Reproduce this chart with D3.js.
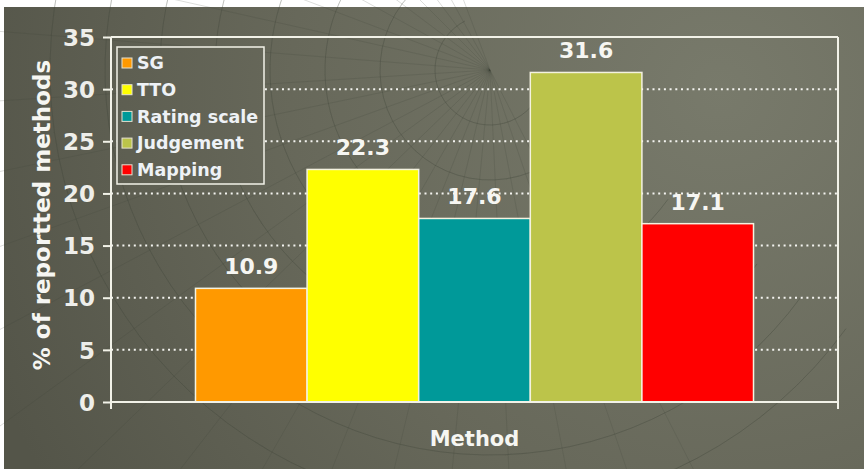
<!DOCTYPE html>
<html>
<head>
<meta charset="utf-8">
<script src="https://cdn.jsdelivr.net/npm/d3@7"></script>
<style>
  html, body { margin: 0; padding: 0; background: #ffffff; }
  svg { display: block; }
  text { font-family: "DejaVu Sans", Verdana, sans-serif; font-weight: bold; }
</style>
</head>
<body>
<svg id="chart" width="864" height="469"></svg>
<script>
// ---- data ----
const categories = ["Method"];
const seriesNames = ["SG", "TTO", "Rating scale", "Judgement", "Mapping"];
const seriesValues = [10.9, 22.3, 17.6, 31.6, 17.1];
const seriesColors = ["#ff9900", "#ffff00", "#009999", "#bcc44a", "#ff0000"];
const yTicks = [0, 5, 10, 15, 20, 25, 30, 35];
const yTitle = "% of reportted methods";
const xTitle = "Method";

const svg = d3.select("#chart");
const W = 864, H = 469;
const m = { left: 111, right: 838, top: 37, bottom: 402 };

// background
const defs = svg.append("defs");
const bg = defs.append("radialGradient")
  .attr("id", "bg").attr("gradientUnits", "userSpaceOnUse")
  .attr("cx", 720).attr("cy", 90).attr("r", 780);
bg.append("stop").attr("offset", "0%").attr("stop-color", "#787a6b");
bg.append("stop").attr("offset", "55%").attr("stop-color", "#67685a");
bg.append("stop").attr("offset", "100%").attr("stop-color", "#545549");

svg.append("rect").attr("x", 4).attr("y", 7).attr("width", W - 4).attr("height", H - 7)
  .attr("fill", "url(#bg)");

// faint decorative web lines in background
const web = svg.append("g").attr("stroke", "#3f4038").attr("stroke-opacity", 0.18).attr("fill", "none");
d3.range(0, 24).forEach(i => {
  const a = Math.PI * (0.35 + i * 0.045);
  web.append("line").attr("x1", 490).attr("y1", 70)
    .attr("x2", 490 + Math.cos(a) * 700).attr("y2", 70 + Math.sin(a) * 700);
});
d3.range(1, 9).forEach(i => {
  web.append("path").attr("d", d3.arc()({innerRadius: i * 55, outerRadius: i * 55, startAngle: Math.PI * 0.7, endAngle: Math.PI * 1.85}))
    .attr("transform", "translate(490,70)");
});

// scales
const y = d3.scaleLinear().domain([0, 35]).range([m.bottom, m.top]);
const x0 = d3.scaleBand().domain(categories).range([m.left, m.right]).paddingInner(0).paddingOuter(0.1514);
const x1 = d3.scaleBand().domain(seriesNames).range([0, x0.bandwidth()]).padding(0);
const color = d3.scaleOrdinal().domain(seriesNames).range(seriesColors);

const lineCol = "#f2f2e8";

// gridlines (dotted)
svg.append("g").selectAll("line").data(yTicks.filter(t => t > 0 && t < 35)).join("line")
  .attr("x1", m.left).attr("x2", m.right)
  .attr("y1", d => y(d)).attr("y2", d => y(d))
  .attr("stroke", "#f4f4f0").attr("stroke-width", 2)
  .attr("stroke-dasharray", "2,3.7");

// frame: top and right
svg.append("line").attr("x1", m.left).attr("x2", m.right).attr("y1", m.top).attr("y2", m.top)
  .attr("stroke", lineCol).attr("stroke-width", 2);
svg.append("line").attr("x1", m.right).attr("x2", m.right).attr("y1", m.top).attr("y2", m.bottom + 7)
  .attr("stroke", lineCol).attr("stroke-width", 2);

// bars
const g = svg.append("g");
categories.forEach(cat => {
  const rows = seriesNames.map((s, i) => ({ s, v: seriesValues[i] }));
  g.selectAll("rect.bar").data(rows).join("rect")
    .attr("class", "bar")
    .attr("x", d => x0(cat) + x1(d.s))
    .attr("y", d => y(d.v))
    .attr("width", x1.bandwidth())
    .attr("height", d => y(0) - y(d.v))
    .attr("fill", d => color(d.s))
    .attr("stroke", "#f4f2e0").attr("stroke-width", 1.5);
  g.selectAll("text.val").data(rows).join("text")
    .attr("class", "val")
    .attr("x", d => x0(cat) + x1(d.s) + x1.bandwidth() / 2)
    .attr("y", d => y(d.v) - 14)
    .attr("text-anchor", "middle")
    .attr("fill", "#f6f6f2").attr("font-size", 22)
    .text(d => d.v.toFixed(1));
});

// y axis
const yAxis = d3.axisLeft(y).tickValues(yTicks).tickSize(8).tickPadding(8).tickFormat(d3.format("d"));
const ya = svg.append("g").attr("transform", `translate(${m.left},0)`).call(yAxis);
ya.select(".domain").attr("stroke", lineCol).attr("stroke-width", 2).attr("d", `M0,${m.top}V${m.bottom}`);
ya.selectAll(".tick line").attr("stroke", lineCol).attr("stroke-width", 2);
ya.selectAll(".tick text").attr("fill", "#eeeeea").attr("font-size", 23)
  .attr("font-family", "DejaVu Sans").attr("font-weight", "bold").attr("dy", "0.36em");

// x axis
const xAxis = d3.axisBottom(x0).tickSize(0).tickFormat("");
const xa = svg.append("g").attr("transform", `translate(0,${m.bottom})`).call(xAxis);
xa.select(".domain").attr("stroke", lineCol).attr("stroke-width", 2).attr("d", `M${m.left},7V0H${m.right}V7`);
xa.selectAll(".tick").remove();

// axis titles
svg.append("text").attr("x", (m.left + m.right) / 2).attr("y", 446)
  .attr("text-anchor", "middle").attr("fill", "#f6f6f2").attr("font-size", 21).text(xTitle);
svg.append("text").attr("transform", "translate(50,215) rotate(-90)")
  .attr("text-anchor", "middle").attr("fill", "#f6f6f2").attr("font-size", 23).text(yTitle);

// legend
const lg = svg.append("g");
lg.append("rect").attr("x", 117).attr("y", 47).attr("width", 147).attr("height", 137)
  .attr("fill", "url(#bg)").attr("stroke", lineCol).attr("stroke-width", 1.5);
const items = lg.selectAll("g.item").data(seriesNames).join("g").attr("class", "item")
  .attr("transform", (d, i) => `translate(122,${63 + i * 26.7})`);
items.append("rect").attr("x", 0).attr("y", -5).attr("width", 10).attr("height", 10)
  .attr("fill", d => color(d)).attr("stroke", "#e6e2d0").attr("stroke-width", 1);
items.append("text").attr("x", 15).attr("y", 0).attr("dy", "0.36em")
  .attr("fill", "#eef2f6").attr("font-size", 17.5).text(d => d);
</script>
</body>
</html>
